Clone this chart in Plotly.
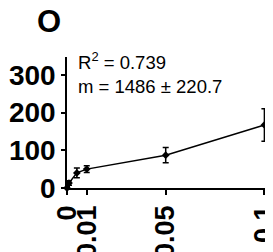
import plotly.graph_objects as go

conc = [0, 0.001, 0.005, 0.01, 0.05, 0.1]
signal = [0, 13, 40, 50, 87, 167]
err = [3, 6, 13, 9, 20, 43]

x_ticks = [0, 0.01, 0.05, 0.1]
x_ticklabels = ["0", "0.01", "0.05", "0.1"]
y_ticks = [0, 100, 200, 300]

panel_label = "O"
stats_text = "R<sup>2</sup> = 0.739<br>m = 1486 ± 220.7"

# page has an 8px body margin, so the figure is 8px smaller than the window
W, H = 265, 244
ML, MR, MT, MB = 59, 8, 49, 64
PW, PH = W - ML - MR, H - MT - MB

fig = go.Figure()
fig.add_trace(go.Scatter(
    x=conc, y=signal,
    mode="lines+markers",
    line=dict(color="black", width=1.5),
    marker=dict(color="black", size=6, symbol="diamond"),
    error_y=dict(type="data", array=err, visible=True, color="black", thickness=1.5, width=3),
    cliponaxis=False,
    showlegend=False,
))

fig.update_layout(
    width=W, height=H,
    margin=dict(l=ML, r=MR, t=MT, b=MB, pad=0, autoexpand=False),
    paper_bgcolor="white", plot_bgcolor="white",
    xaxis=dict(
        range=[0, 0.1003], tickvals=x_ticks, ticktext=x_ticklabels,
        tickangle=-90, tickfont=dict(family="Liberation Sans, Arial", size=27, color="black", weight="bold"),
        showline=True, linecolor="black", linewidth=1.5,
        ticks="outside", ticklen=5, tickwidth=1.5, tickcolor="black",
        showgrid=False, zeroline=False, ticklabeloverflow="allow", automargin=False,
    ),
    yaxis=dict(
        range=[0, 347], tickvals=y_ticks,
        tickfont=dict(family="Liberation Sans, Arial", size=28, color="black", weight="bold"),
        showline=True, linecolor="black", linewidth=1.5,
        ticks="outside", ticklen=4, tickwidth=1.5, tickcolor="black",
        showgrid=False, zeroline=False, automargin=False,
    ),
    font=dict(family="Liberation Sans, Arial", color="black"),
)

def ypix(py):
    return 1 + (MT - py) / PH

fig.add_annotation(
    text=panel_label, xref="paper", yref="paper",
    x=(41 - ML) / PW, y=ypix(14),
    showarrow=False, xanchor="center", yanchor="middle",
    font=dict(family="Liberation Sans, Arial", size=31, color="black", weight="bold"),
)
fig.add_annotation(
    text=stats_text, xref="paper", yref="paper",
    x=(68 - ML) / PW, y=ypix(65),
    showarrow=False, xanchor="left", yanchor="middle", align="left",
    font=dict(family="Liberation Sans, Arial", size=18.5, color="black"),
)

fig.write_html("out.html")
